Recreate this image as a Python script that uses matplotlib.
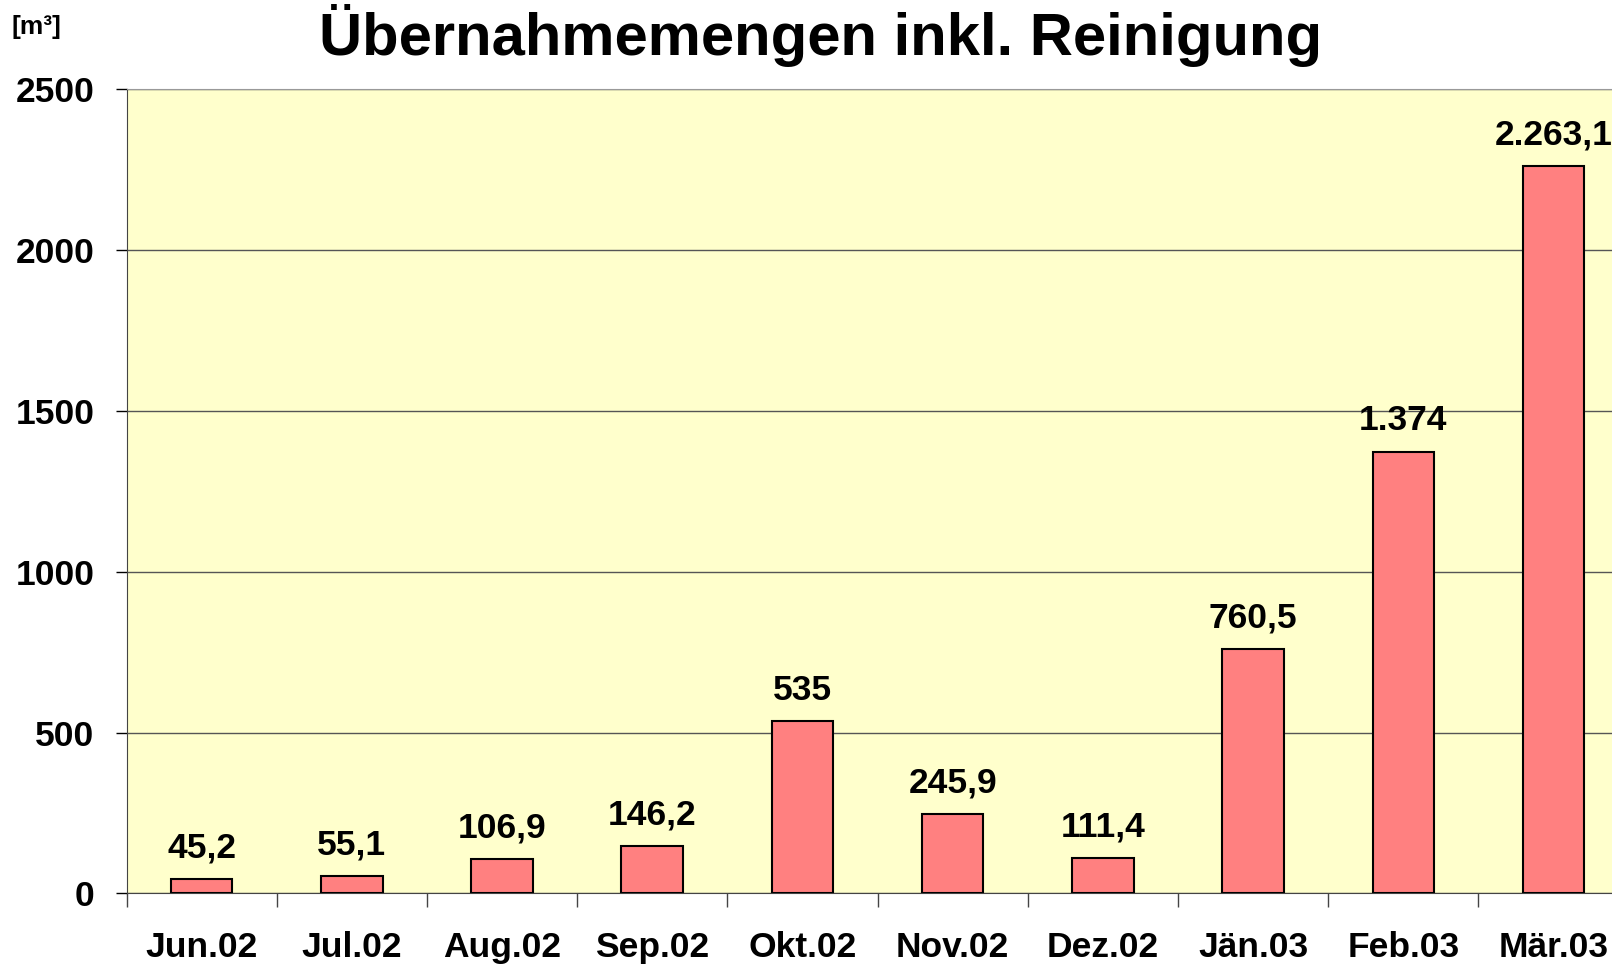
import matplotlib.pyplot as plt
import numpy as np

months = ["Jun.02", "Jul.02", "Aug.02", "Sep.02", "Okt.02",
          "Nov.02", "Dez.02", "Jän.03", "Feb.03", "Mär.03"]
values = [45.2, 55.1, 106.9, 146.2, 535, 245.9, 111.4, 760.5, 1374, 2263.1]
labels = ["45,2", "55,1", "106,9", "146,2", "535",
          "245,9", "111,4", "760,5", "1.374", "2.263,1"]

plt.rcParams['font.family'] = ['Liberation Sans', 'DejaVu Sans']
plt.rcParams['font.weight'] = 'bold'

fig = plt.figure(figsize=(16.12, 9.64), dpi=100)
# plot area runs past the right edge like in the original
ax = fig.add_axes([0.0785, 0.0732, 0.9318, 0.834])
ax.set_facecolor('#FFFFCC')

x = np.arange(len(months))
ax.bar(x, values, width=0.41, color='#FF8080', edgecolor='black', linewidth=1.5, zorder=3)

for xi, v, lab in zip(x, values, labels):
    ax.text(xi, v + 45, lab, ha='center', va='bottom', fontsize=25.5, fontweight='bold')

ax.set_xlim(-0.5, len(months) - 0.5)
ax.set_ylim(0, 2500)
ax.set_yticks(range(0, 2501, 500))
ax.yaxis.grid(True, color='#555555', linewidth=1)
ax.set_axisbelow(True)

ax.set_xticks(x)
ax.set_xticklabels(months, fontsize=25.5, fontweight='bold')
ax.set_xticks(np.arange(-0.5, len(months), 1), minor=True)
ax.tick_params(axis='x', which='major', length=0, pad=27)
ax.tick_params(axis='x', which='minor', length=10, width=1, color='#444444')
ax.tick_params(axis='y', length=8, width=1, pad=15, labelsize=25.5)
for t in ax.get_yticklabels():
    t.set_fontweight('bold')

ax.spines['top'].set_color('#999999')
ax.spines['left'].set_color('#444444')
ax.spines['bottom'].set_color('#444444')
ax.spines['right'].set_visible(False)

fig.text(0.509, 0.93, "Übernahmemengen inkl. Reinigung", ha='center', va='bottom',
         fontsize=43, fontweight='bold')
fig.text(0.007, 0.972, "[m³]", ha='left', va='center', fontsize=19, fontweight='bold')

fig.savefig('out.png', dpi=100)
